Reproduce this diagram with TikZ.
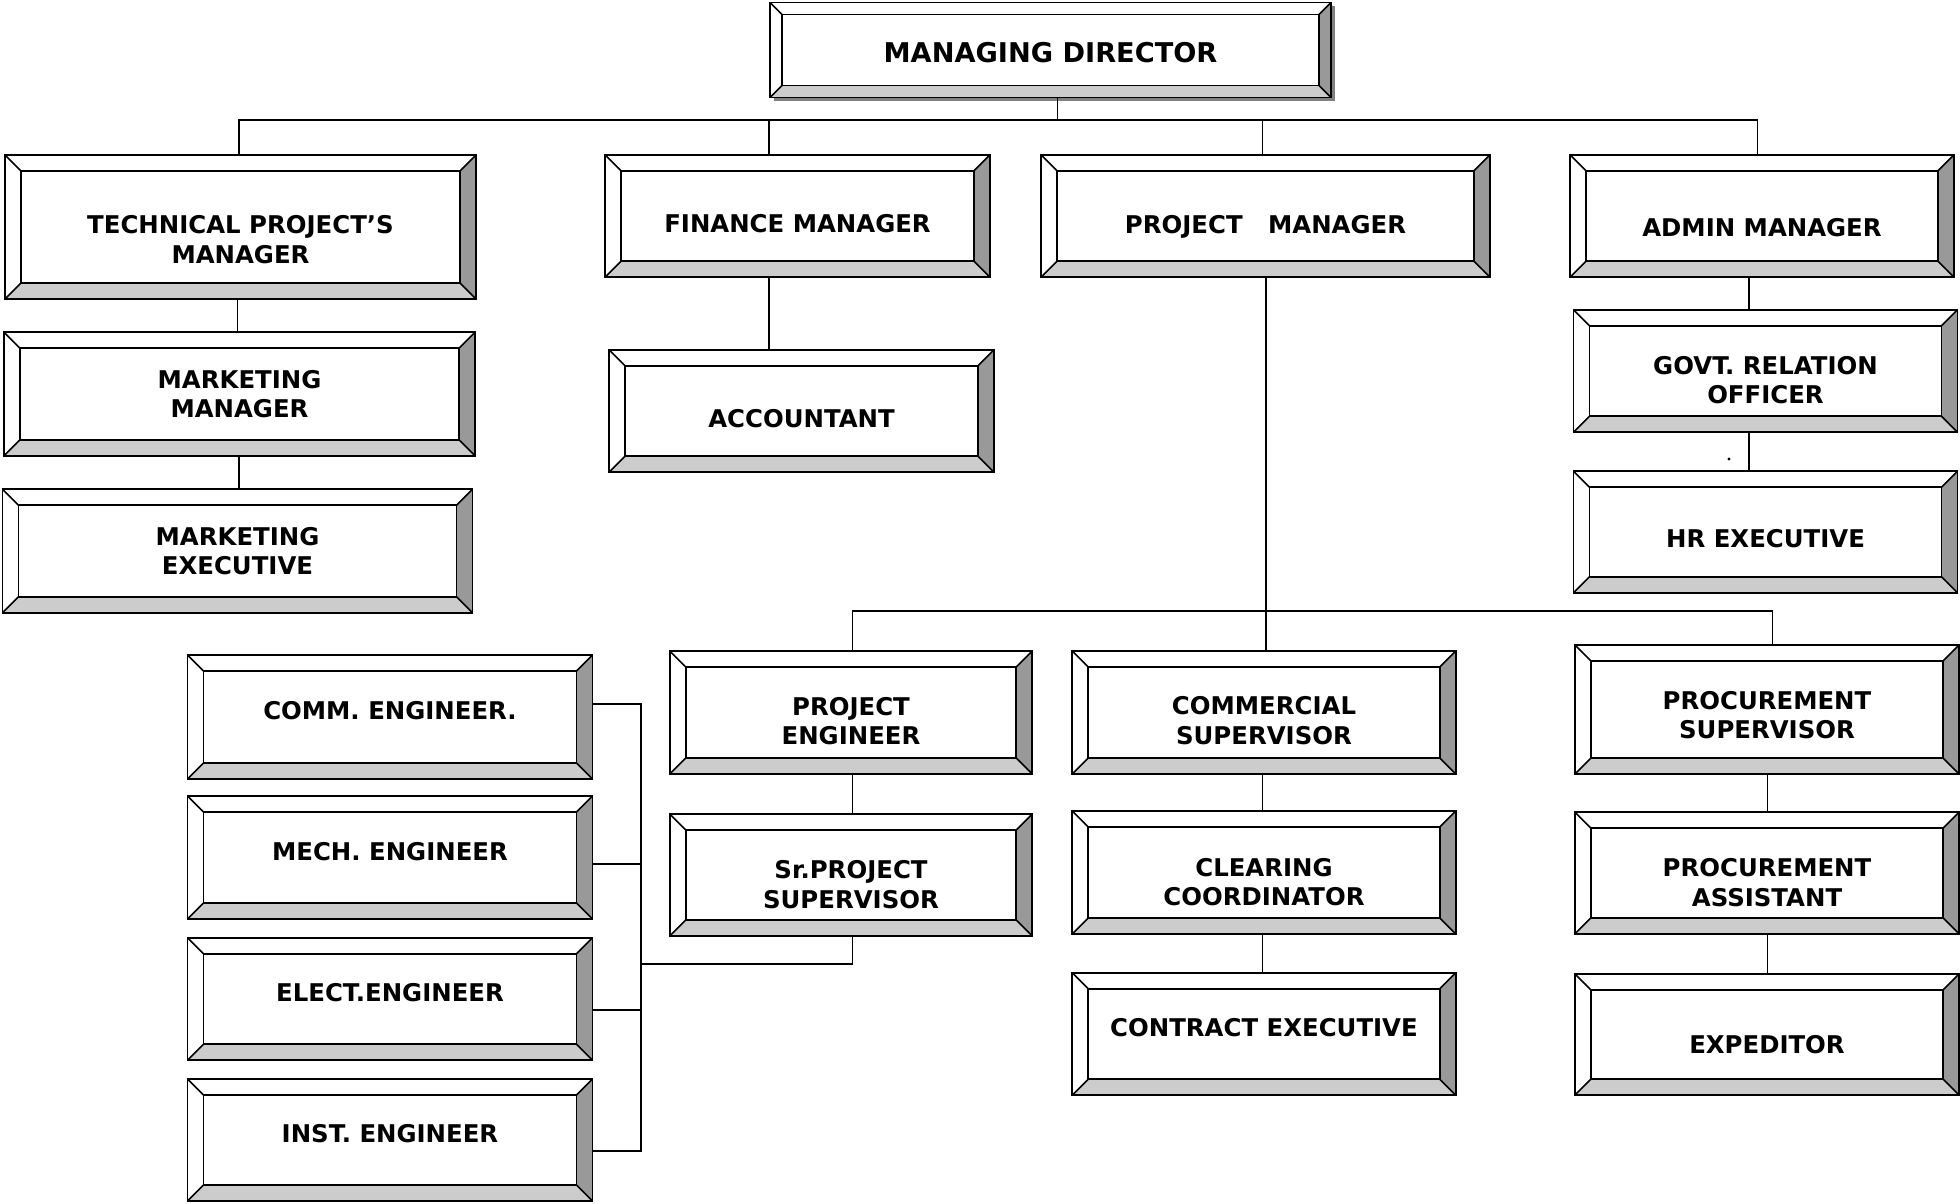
\documentclass[tikz,border=0pt]{standalone}
\usepackage{fontspec}
\setmainfont{DejaVu Sans}
\usetikzlibrary{shadows}
\definecolor{bevdark}{HTML}{999999}
\definecolor{bevlight}{HTML}{CCCCCC}
\definecolor{shade}{HTML}{808080}
\newcommand{\orgfont}{\fontsize{12.2}{14.7}\selectfont\bfseries}
\newcommand{\bvsize}{8pt}

\tikzset{
	bev/.code={\def\bvsize{#1}},
	wh/.style 2 args={minimum width=#1*0.5pt, minimum height=#2*0.5pt},
	% text placement inside the box
	th/.style={text height=#1, text depth=0pt},
	bevbox/.style={draw, line width=0.8pt, fill=white, align=center, font=\orgfont, inner sep=0pt,
		path picture={
			\coordinate (sw) at (path picture bounding box.south west);
			\coordinate (se) at (path picture bounding box.south east);
			\coordinate (ne) at (path picture bounding box.north east);
			\coordinate (nw) at (path picture bounding box.north west);
			\coordinate (isw) at ([shift={(\bvsize,\bvsize)}]sw);
			\coordinate (ise) at ([shift={(-\bvsize,\bvsize)}]se);
			\coordinate (ine) at ([shift={(-\bvsize,-\bvsize)}]ne);
			\coordinate (inw) at ([shift={(\bvsize,-\bvsize)}]nw);
			\fill[bevlight] (sw) -- (se) -- (ise) -- (isw) -- cycle;
			\fill[bevdark] (se) -- (ne) -- (ine) -- (ise) -- cycle;
			\draw[line width=0.8pt] (isw) rectangle (ine);
			\draw[line width=0.8pt] (sw) -- (isw) (se) -- (ise) (ne) -- (ine) (nw) -- (inw);
		}},
	link/.style={line width=0.9pt},
}

\begin{document}
\begin{tikzpicture}[x=0.5pt,y=-0.5pt]
	\useasboundingbox (0,0) rectangle (1960,1204);
	% top
	\node[bevbox, bev=6pt, wh={561}{95}, font=\fontsize{13.6}{16}\selectfont\bfseries, th=12.4pt,
		drop shadow={shadow xshift=2pt, shadow yshift=-2pt, fill=shade, opacity=1}] (md) at (1050.5,50) {MANAGING DIRECTOR};
	% managers
	\node[bevbox, wh={471}{144}, th=36pt] (tpm) at (240.5,227) {TECHNICAL PROJECT’S\\MANAGER};
	\node[bevbox, wh={385}{122.5}, th=16.4pt] (fm) at (797.5,216) {FINANCE MANAGER};
	\node[bevbox, wh={449}{122.5}, th=17.7pt] (pm) at (1265.5,216) {PROJECT~~~MANAGER};
	\node[bevbox, wh={384}{122.5}, th=20.1pt] (am) at (1762,216) {ADMIN MANAGER};
	% under the managers
	\node[bevbox, wh={471}{123.5}, th=23.6pt] (mm) at (239.5,394) {MARKETING\\MANAGER};
	\node[bevbox, wh={470}{123.5}, th=23.6pt] (me) at (237.5,551) {MARKETING\\EXECUTIVE};
	\node[bevbox, wh={385}{122.5}, th=16.4pt] (acc) at (801.5,411) {ACCOUNTANT};
	\node[bevbox, wh={384}{122.5}, th=32.4pt] (gro) at (1765.5,371) {GOVT. RELATION\\OFFICER};
	\node[bevbox, wh={384}{121.5}, th=15.1pt] (hr) at (1765.5,532) {HR EXECUTIVE};
	% project team
	\node[bevbox, wh={362.5}{123}, th=32.4pt] (pe) at (851,712.5) {PROJECT\\ENGINEER};
	\node[bevbox, wh={383.5}{123}, th=31.6pt] (cs) at (1264,712.5) {COMMERCIAL\\SUPERVISOR};
	\node[bevbox, wh={384}{129}, th=29.2pt] (ps) at (1767,709.5) {PROCUREMENT\\SUPERVISOR};
	\node[bevbox, wh={362.5}{122}, th=33pt] (sps) at (851,875) {Sr.PROJECT\\SUPERVISOR};
	\node[bevbox, wh={383.5}{123}, th=33pt] (cc) at (1264,872.5) {CLEARING\\COORDINATOR};
	\node[bevbox, wh={383.5}{122.5}, th=2.7pt] (ce) at (1264,1034) {CONTRACT EXECUTIVE};
	\node[bevbox, wh={384}{121.5}, th=33pt] (pa) at (1767,873) {PROCUREMENT\\ASSISTANT};
	\node[bevbox, wh={384}{121}, th=18.9pt] (exp) at (1767,1034.5) {EXPEDITOR};
	% engineers
	\node[bevbox, wh={405}{124}, th=2.7pt] (comm) at (390,717) {COMM. ENGINEER.};
	\node[bevbox, wh={405}{123}, th=2.7pt] (mech) at (390,857.5) {MECH. ENGINEER};
	\node[bevbox, wh={405}{122.5}, th=2.7pt] (elect) at (390,999) {ELECT.ENGINEER};
	\node[bevbox, wh={405}{122}, th=2.7pt] (inst) at (390,1140) {INST. ENGINEER};

	% connectors
	\coordinate (mdbus) at (1057.5,120);
	\draw[link] (md.south -| mdbus) -- (mdbus);
	\draw[link] (tpm.north -| 239,0) |- (mdbus);
	\draw[link] (fm.north -| 769,0) |- (mdbus);
	\draw[link] (pm.north -| 1262.5,0) |- (mdbus);
	\draw[link] (am.north -| 1757.5,0) |- (mdbus);
	\draw[link] (tpm.south -| 237.5,0) -- (mm.north -| 237.5,0);
	\draw[link] (mm.south -| 239,0) -- (me.north -| 239,0);
	\draw[link] (fm.south -| 769,0) -- (acc.north -| 769,0);
	\draw[link] (am.south -| 1749,0) -- (gro.north -| 1749,0);
	\draw[link] (gro.south -| 1749,0) -- (hr.north -| 1749,0);
	\fill (1729,459) circle (0.8pt);
	\coordinate (pmbus) at (1266,611);
	\draw[link] (pm.south -| pmbus) -- (pmbus);
	\draw[link] (cs.north -| pmbus) -- (pmbus);
	\draw[link] (pe.north -| 852.5,0) |- (pmbus);
	\draw[link] (ps.north -| 1772.5,0) |- (pmbus);
	\draw[link] (pe.south -| 852.5,0) -- (sps.north -| 852.5,0);
	\draw[link] (cs.south -| 1262.5,0) -- (cc.north -| 1262.5,0);
	\draw[link] (cc.south -| 1262.5,0) -- (ce.north -| 1262.5,0);
	\draw[link] (ps.south -| 1767.5,0) -- (pa.north -| 1767.5,0);
	\draw[link] (pa.south -| 1767.5,0) -- (exp.north -| 1767.5,0);
	\coordinate (spine) at (641,964);
	\draw[link] (sps.south -| 852.5,0) |- (spine);
	\draw[link] (comm.east |- 0,704) -| (spine);
	\draw[link] (mech.east |- 0,864) -- (spine |- 0,864);
	\draw[link] (elect.east |- 0,1010) -- (spine |- 0,1010);
	\draw[link] (inst.east |- 0,1151) -| (spine);
\end{tikzpicture}
\end{document}
